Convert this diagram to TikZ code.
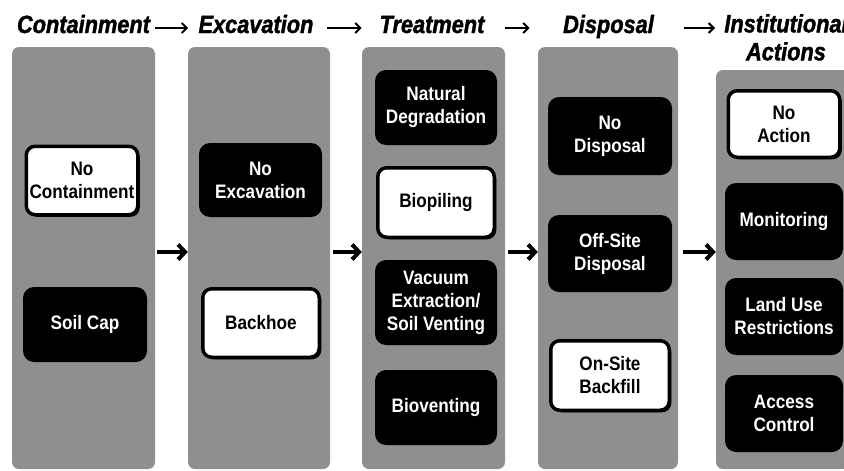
\documentclass[tikz,border=0pt]{standalone}
\usepackage{fontspec}
\usetikzlibrary{arrows.meta,shadows}
\newfontfamily\headfont[FakeStretch=0.87,FakeBold=1.6]{Liberation Sans}
\newfontfamily\boxfont[FakeStretch=0.88]{Liberation Sans}
\definecolor{panelgray}{gray}{0.56}

\begin{document}
\begin{tikzpicture}[x=1pt,y=-1pt,
  panel/.style={fill=panelgray, rounded corners=7pt, inner sep=0pt},
  boxtext/.style={font=\boxfont\bfseries\fontsize{19.5}{23}\selectfont, align=center, inner sep=0pt},
  darkbox/.style={boxtext, fill=black, rounded corners=11pt, text=white},
  whitebox/.style={boxtext, fill=white, draw=black, line width=3.5pt, rounded corners=9pt, text=black,
    drop shadow={shadow xshift=2pt, shadow yshift=-2pt, fill=black, opacity=1}},
  head/.style={font=\headfont\bfseries\itshape\fontsize{25}{27}\selectfont, inner sep=0pt, anchor=base, align=center},
  headarrow/.style={line width=2pt, -{Straight Barb[length=5pt,width=10pt]}},
  flowarrow/.style={line width=4pt, -{Straight Barb[length=7pt,width=15pt]}},
]
\useasboundingbox (0,0) rectangle (844,471);

% stage columns
\node[panel, minimum width=143pt, minimum height=422pt] (p1) at (83.5,258) {};
\node[panel, minimum width=142pt, minimum height=422pt] (p2) at (259,258) {};
\node[panel, minimum width=143pt, minimum height=422pt] (p3) at (433.5,258) {};
\node[panel, minimum width=140pt, minimum height=422pt] (p4) at (608,258) {};
\node[panel, minimum width=134pt, minimum height=399pt] (p5) at (783,269.5) {};

% stage headings
\node[head] (h1) at (83.5,33) {Containment};
\node[head] (h2) at (256,33) {Excavation};
\node[head] (h3) at (432,33) {Treatment};
\node[head] (h4) at (608.5,33) {Disposal};
\node[head, anchor=north] (h5) at (786,14) {Institutional\\[1pt]Actions};

\coordinate (hrow) at (0,28);
\draw[headarrow] ([xshift=5pt]h1.east |- hrow) -- ++(33,0);
\draw[headarrow] ([xshift=13pt]h2.east |- hrow) -- ++(35,0);
\draw[headarrow] ([xshift=20pt]h3.east |- hrow) -- ++(25,0);
\draw[headarrow] ([xshift=30pt]h4.east |- hrow) -- ++(31,0);

% containment
\node[whitebox, minimum width=111.5pt, minimum height=68.5pt] (nocont) at (82,180.5) {No\\Containment};
\node[darkbox, minimum width=124pt, minimum height=75pt] (soilcap) at (85,324.5) {Soil Cap};

% excavation
\node[darkbox, minimum width=123pt, minimum height=74pt] (noexc) at (260.5,180) {No\\Excavation};
\node[whitebox, minimum width=116.5pt, minimum height=68.5pt] (backhoe) at (261,323) {Backhoe};

% treatment
\node[darkbox, minimum width=122pt, minimum height=75pt] (natdeg) at (436,107.5) {Natural\\Degradation};
\node[whitebox, minimum width=116.5pt, minimum height=69.5pt] (biopile) at (436,202.5) {Biopiling};
\node[darkbox, minimum width=122pt, minimum height=85pt] (vacuum) at (436,302.5) {Vacuum\\Extraction/\\Soil Venting};
\node[darkbox, minimum width=122pt, minimum height=75pt] (biovent) at (436,407.5) {Bioventing};

% disposal
\node[darkbox, minimum width=124pt, minimum height=78pt] (nodisp) at (610,136) {No\\Disposal};
\node[darkbox, minimum width=124pt, minimum height=77pt] (offsite) at (610,253.5) {Off-Site\\Disposal};
\node[whitebox, minimum width=118.5pt, minimum height=69.5pt] (onsite) at (610,375.5) {On-Site\\Backfill};

% institutional actions
\node[whitebox, minimum width=111.5pt, minimum height=66.5pt] (noaction) at (784,124) {No\\Action};
\node[darkbox, minimum width=118pt, minimum height=77pt] (monitor) at (784,221.5) {Monitoring};
\node[darkbox, minimum width=118pt, minimum height=77pt] (landuse) at (784,316.5) {Land Use\\Restrictions};
\node[darkbox, minimum width=118pt, minimum height=77pt] (access) at (784,413.5) {Access\\Control};

% flow between stages
\coordinate (frow) at (0,252);
\draw[flowarrow, shorten <=2pt] (p1.east |- frow) -- (p2.west |- frow);
\draw[flowarrow, shorten <=3pt] (p2.east |- frow) -- (p3.west |- frow);
\draw[flowarrow, shorten <=3pt] (p3.east |- frow) -- (p4.west |- frow);
\draw[flowarrow, shorten <=5pt] (p4.east |- frow) -- (p5.west |- frow);
\end{tikzpicture}
\end{document}
